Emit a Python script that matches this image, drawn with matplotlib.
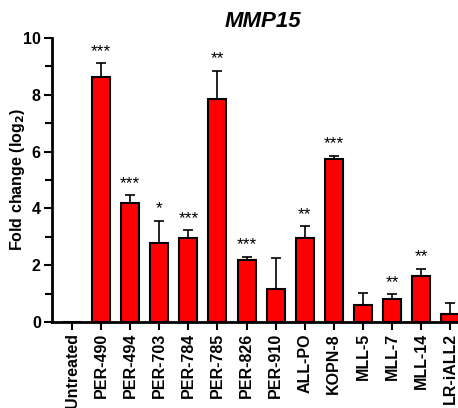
import matplotlib
matplotlib.use("Agg")
import matplotlib.pyplot as plt

plt.rcParams["font.family"] = ["Liberation Sans", "DejaVu Sans"]

labels = ["Untreated", "PER-490", "PER-494", "PER-703", "PER-784", "PER-785", "PER-826",
          "PER-910", "ALL-PO", "KOPN-8", "MLL-5", "MLL-7", "MLL-14", "LR-iALL2"]
fold = [0.0, 8.63, 4.19, 2.78, 2.96, 7.85, 2.18, 1.16, 2.96, 5.74, 0.60, 0.81, 1.62, 0.28]
err = [0.0, 0.49, 0.28, 0.78, 0.28, 0.99, 0.11, 1.09, 0.42, 0.11, 0.42, 0.16, 0.25, 0.39]
stars = ["", "***", "***", "*", "***", "**", "***", "", "**", "***", "", "**", "**", ""]

fig = plt.figure(figsize=(4.58, 4.08), dpi=100)
ax = fig.add_axes([0.1135, 0.211, 0.8865, 0.696])

x = list(range(len(labels)))
ax.bar(x, fold, width=0.62, color="#ff0000", edgecolor="black", linewidth=1.5, zorder=2)
# upper error bars only
ax.errorbar(x, fold, yerr=[[0] * len(err), err], fmt="none", ecolor="black",
            elinewidth=1.2, capsize=3.5, capthick=1.2, zorder=1)

for xi, v, e, s in zip(x, fold, err, stars):
    if s:
        ax.text(xi, v + e + 0.15, s, ha="center", va="bottom", fontsize=12.5)

ax.set_xlim(-0.69, 13.27)
ax.set_ylim(0, 10)
ax.set_yticks([0, 2, 4, 6, 8, 10])
ax.set_yticks([1, 3, 5, 7, 9], minor=True)
ax.set_xticks(x)
ax.set_xticklabels(labels, rotation=90, fontsize=11.5, fontweight="bold")
for t in ax.get_yticklabels():
    t.set_fontweight("bold")
    t.set_fontsize(11.5)
ax.tick_params(axis="both", width=1.5, length=6, pad=2)
ax.tick_params(axis="y", which="minor", width=1.5, length=5)
for side in ["top", "right"]:
    ax.spines[side].set_visible(False)
for side in ["left", "bottom"]:
    ax.spines[side].set_linewidth(2)
ax.set_ylabel("Fold change (log$_\\mathbf{2}$)", fontsize=11.5, fontweight="bold")
ax.yaxis.set_label_coords(-0.062, 0.5)

fig.text(0.575, 0.948, "MMP15", ha="center", va="center", fontsize=16,
         fontweight="bold", fontstyle="italic")

fig.savefig("out.png", dpi=100)
